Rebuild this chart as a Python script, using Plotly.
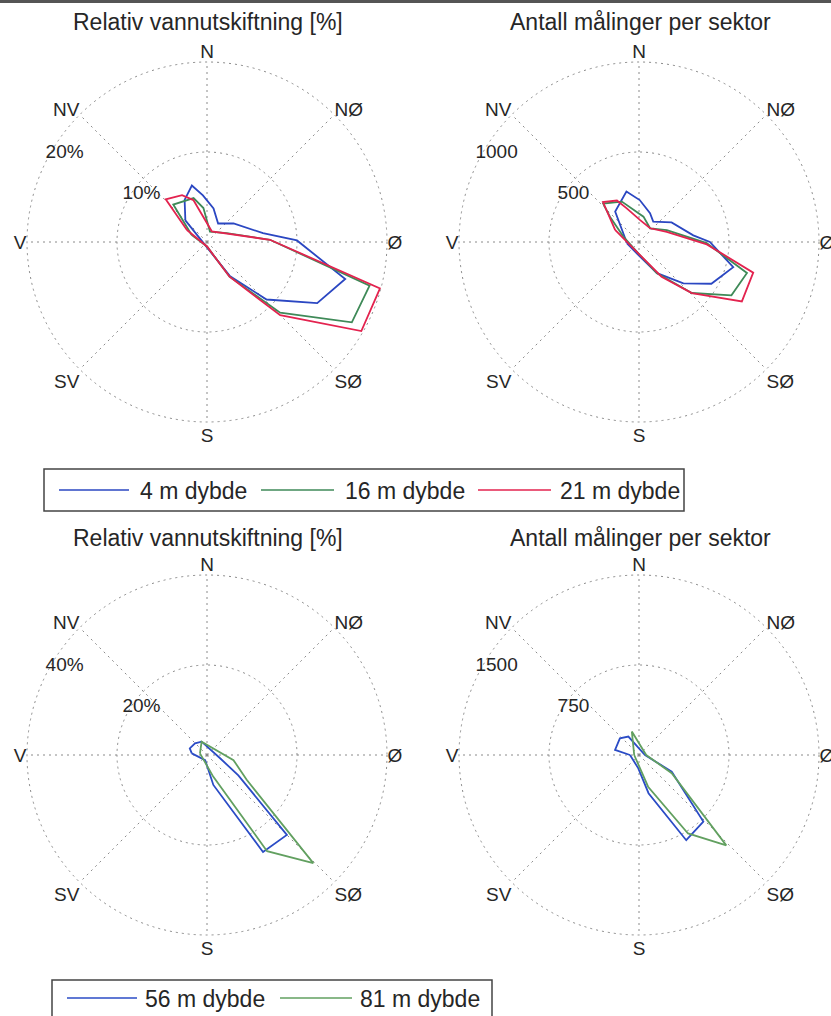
import plotly.graph_objects as go

W, H = 831, 1016
FONT = "Liberation Sans, Arial, sans-serif"
GRID = "#8a8a8a"
TXT = "#262626"

# ---------------- data ----------------
directions = ["N", "NØ", "Ø", "SØ", "S", "SV", "V", "NV"]
direction_angles = [0, 45, 90, 135, 180, 225, 270, 315]

title_exchange = "Relativ vannutskiftning [%]"
title_count = "Antall målinger per sektor"

# radial ticks (value, label)
tl_ticks = [10, 20]
tl_ticklabels = ["10%", "20%"]
tr_ticks = [500, 1000]
tr_ticklabels = ["500", "1000"]
bl_ticks = [20, 40]
bl_ticklabels = ["20%", "40%"]
br_ticks = [750, 1500]
br_ticklabels = ["750", "1500"]

# series names
top_names = ["4 m dybde", "16 m dybde", "21 m dybde"]
bottom_names = ["56 m dybde", "81 m dybde"]

# top-left: relative water exchange [%]
tl_4m_theta = [315, 332, 345, 355, 11, 31, 55, 81, 89, 105, 119, 134, 146, 180]
tl_4m_r = [3.4, 5.3, 6.5, 5.2, 3.8, 2.4, 3.6, 6.3, 10.0, 15.9, 14.0, 9.2, 4.6, 0.6]
tl_16m_theta = [295, 318, 343, 354, 16, 66, 88, 105, 119, 134, 147, 180]
tl_16m_r = [1.9, 5.6, 5.1, 3.8, 1.2, 2.4, 7.0, 18.7, 18.4, 11.3, 4.6, 0.5]
tl_21m_theta = [301, 316, 332, 342, 24, 88, 105, 120, 135, 147, 180]
tl_21m_r = [2.6, 6.6, 5.9, 4.9, 1.3, 7.0, 19.9, 19.8, 11.5, 4.6, 0.5]

# top-right: number of measurements per sector
tr_4m_theta = [264, 322, 346, 1, 21, 35, 59, 83, 90, 105, 120, 133, 150, 176]
tr_4m_r = [67, 215, 289, 233, 171, 138, 211, 304, 394, 542, 464, 337, 200, 82]
tr_16m_theta = [289, 311, 317, 337, 10, 39, 67, 91, 106, 120, 134, 150, 172]
tr_16m_r = [92, 214, 292, 244, 143, 98, 168, 376, 624, 593, 408, 200, 80]
tr_21m_theta = [297, 318, 332, 340, 3, 39, 70, 92, 105, 120, 134, 147, 170]
tr_21m_r = [149, 299, 261, 199, 122, 98, 164, 377, 657, 660, 408, 230, 83]

# bottom-left: relative water exchange [%]
bl_56m_theta = [276, 291, 314, 338, 104, 123, 135, 150, 168, 200]
bl_56m_r = [3.4, 4.1, 3.7, 3.2, 3.0, 8.3, 25.1, 24.9, 6.8, 1.2]
bl_81m_theta = [283, 338, 101, 122, 135.5, 148, 164]
bl_81m_r = [1.6, 3.2, 6.0, 10.4, 33.7, 25.2, 5.0]

# bottom-right: number of measurements per sector
br_56m_theta = [270, 282, 311, 330, 90, 117, 136, 151, 166, 183]
br_56m_r = [75, 204, 211, 177, 50, 306, 772, 812, 328, 111]
br_81m_theta = [270, 343, 90, 119, 136, 148, 164]
br_81m_r = [40, 204, 60, 312, 1047, 771, 275]

top_colors = ["#2b47c2", "#3f8a58", "#e3234f"]
bottom_colors = ["#2b4cc6", "#62a060"]

# ---------------- layout helpers ----------------
R = 180
centers = {"polar": (207, 242), "polar2": (639, 242), "polar3": (207, 755), "polar4": (639, 755)}


def px_x(x):
    return x / W


def px_y(y):
    return 1 - y / H


def dom(cx, cy, r=R):
    return dict(x=[(cx - r) / W, (cx + r) / W], y=[(H - cy - r) / H, (H - cy + r) / H])


def polar_cfg(name, ticks):
    return dict(
        domain=dom(*centers[name]),
        bgcolor="rgba(0,0,0,0)",
        angularaxis=dict(
            rotation=90, direction="clockwise", tickmode="array",
            tickvals=direction_angles, ticktext=directions,
            showline=False, showgrid=True, gridcolor=GRID, gridwidth=1,
            griddash="2px,4px", ticks="",
            tickfont=dict(size=19, color=TXT, family=FONT),
        ),
        radialaxis=dict(
            range=[0, ticks[-1]], tickmode="array", tickvals=ticks,
            showticklabels=False, showline=False, showgrid=True,
            gridcolor=GRID, gridwidth=1, griddash="2px,4px", ticks="",
        ),
    )


def closed(a):
    return list(a) + [a[0]]


fig = go.Figure()


def add_series(subplot, theta, r, color, name):
    fig.add_trace(go.Scatterpolar(
        theta=closed(theta), r=closed(r), mode="lines", name=name,
        line=dict(color=color, width=1.8), subplot=subplot,
        showlegend=False, hoverinfo="skip",
    ))


def add_tick_labels(subplot, ticks, labels):
    fig.add_trace(go.Scatterpolar(
        r=[ticks[0] * 0.9, ticks[1] * 0.933], theta=[306, 302], mode="text",
        text=labels, textposition="middle center",
        textfont=dict(size=19, color=TXT, family=FONT),
        subplot=subplot, showlegend=False, hoverinfo="skip",
    ))


add_series("polar", tl_4m_theta, tl_4m_r, top_colors[0], top_names[0])
add_series("polar", tl_16m_theta, tl_16m_r, top_colors[1], top_names[1])
add_series("polar", tl_21m_theta, tl_21m_r, top_colors[2], top_names[2])
add_tick_labels("polar", tl_ticks, tl_ticklabels)

add_series("polar2", tr_4m_theta, tr_4m_r, top_colors[0], top_names[0])
add_series("polar2", tr_16m_theta, tr_16m_r, top_colors[1], top_names[1])
add_series("polar2", tr_21m_theta, tr_21m_r, top_colors[2], top_names[2])
add_tick_labels("polar2", tr_ticks, tr_ticklabels)

add_series("polar3", bl_56m_theta, bl_56m_r, bottom_colors[0], bottom_names[0])
add_series("polar3", bl_81m_theta, bl_81m_r, bottom_colors[1], bottom_names[1])
add_tick_labels("polar3", bl_ticks, bl_ticklabels)

add_series("polar4", br_56m_theta, br_56m_r, bottom_colors[0], bottom_names[0])
add_series("polar4", br_81m_theta, br_81m_r, bottom_colors[1], bottom_names[1])
add_tick_labels("polar4", br_ticks, br_ticklabels)

# ---------------- titles ----------------
annotations = []
for (x, y, t) in [(208, 22, title_exchange), (640, 22, title_count),
                  (208, 538, title_exchange), (640, 538, title_count)]:
    annotations.append(dict(x=px_x(x), y=px_y(y), xref="paper", yref="paper",
                            text=t, showarrow=False, xanchor="center", yanchor="middle",
                            font=dict(size=23, color=TXT, family=FONT)))

shapes = []
# dotted outer rings of the compass roses
for cx, cy in centers.values():
    shapes.append(dict(type="circle", xref="paper", yref="paper", layer="below",
                       x0=px_x(cx - R), x1=px_x(cx + R), y0=px_y(cy + R), y1=px_y(cy - R),
                       line=dict(color=GRID, width=1, dash="2px,4px")))

# ---------------- custom legends ----------------
shapes.append(dict(type="rect", xref="paper", yref="paper",
                   x0=px_x(44), x1=px_x(684), y0=px_y(511), y1=px_y(469),
                   line=dict(color="#444", width=1.5), fillcolor="white"))
top_leg_lines = [(59, 129), (261, 334), (478, 551)]
top_leg_text_x = [138, 343, 558]
for (x0, x1), tx, c, n in zip(top_leg_lines, top_leg_text_x, top_colors, top_names):
    shapes.append(dict(type="line", xref="paper", yref="paper",
                       x0=px_x(x0), x1=px_x(x1), y0=px_y(490), y1=px_y(490),
                       line=dict(color=c, width=1.5)))
    annotations.append(dict(x=px_x(tx), y=px_y(491), xref="paper", yref="paper",
                            text=n, showarrow=False, xanchor="left", yanchor="middle",
                            font=dict(size=23, color=TXT, family=FONT)))

shapes.append(dict(type="rect", xref="paper", yref="paper",
                   x0=px_x(52), x1=px_x(492), y0=px_y(1030), y1=px_y(980),
                   line=dict(color="#444", width=1.5), fillcolor="white"))
bot_leg_lines = [(67, 137), (280, 352)]
bot_leg_text_x = [143, 358]
for (x0, x1), tx, c, n in zip(bot_leg_lines, bot_leg_text_x, bottom_colors, bottom_names):
    shapes.append(dict(type="line", xref="paper", yref="paper",
                       x0=px_x(x0), x1=px_x(x1), y0=px_y(998), y1=px_y(998),
                       line=dict(color=c, width=1.5)))
    annotations.append(dict(x=px_x(tx), y=px_y(999), xref="paper", yref="paper",
                            text=n, showarrow=False, xanchor="left", yanchor="middle",
                            font=dict(size=23, color=TXT, family=FONT)))

# top border line of the scanned page
shapes.append(dict(type="line", xref="paper", yref="paper",
                   x0=0, x1=1, y0=px_y(1.5), y1=px_y(1.5),
                   line=dict(color="#555", width=3)))

fig.update_layout(
    width=W, height=H,
    margin=dict(l=0, r=0, t=0, b=0),
    paper_bgcolor="white", plot_bgcolor="white",
    showlegend=False,
    polar=polar_cfg("polar", tl_ticks),
    polar2=polar_cfg("polar2", tr_ticks),
    polar3=polar_cfg("polar3", bl_ticks),
    polar4=polar_cfg("polar4", br_ticks),
    annotations=annotations,
    shapes=shapes,
    font=dict(family=FONT, color=TXT),
)

fig.write_html(
    "out.html",
    config={"displayModeBar": False, "staticPlot": True},
    post_script="document.body.style.margin='0';document.body.style.overflow='hidden';",
)
